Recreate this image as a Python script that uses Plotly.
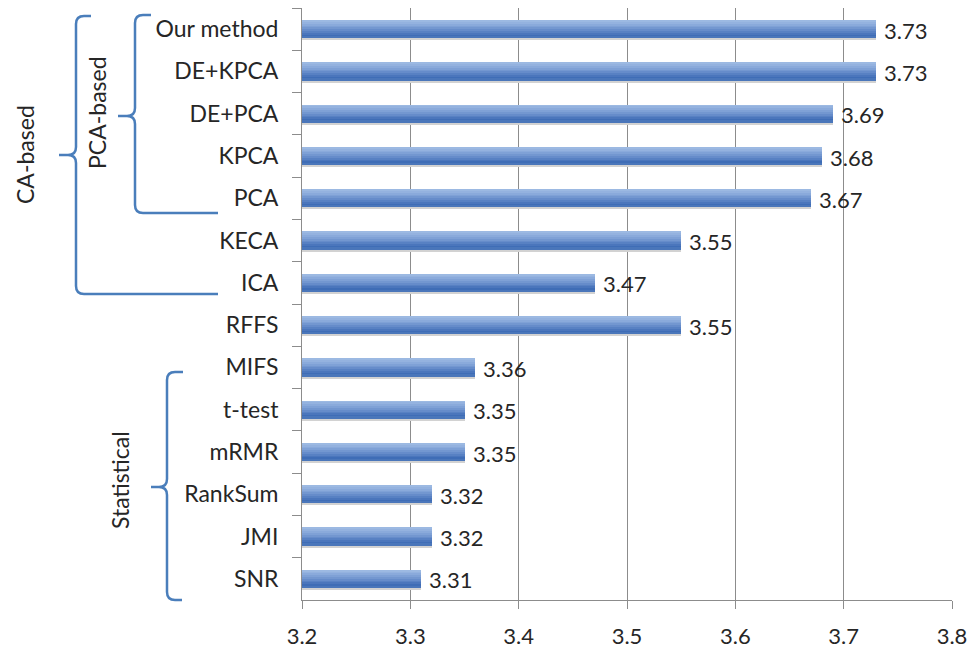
import plotly.graph_objects as go

# Feature-selection methods, listed top to bottom, and their scores
methods = ["Our method", "DE+KPCA", "DE+PCA", "KPCA", "PCA", "KECA", "ICA",
           "RFFS", "MIFS", "t-test", "mRMR", "RankSum", "JMI", "SNR"]
scores = [3.73, 3.73, 3.69, 3.68, 3.67, 3.55, 3.47,
          3.55, 3.36, 3.35, 3.35, 3.32, 3.32, 3.31]
x_ticks = [3.2, 3.3, 3.4, 3.5, 3.6, 3.7, 3.8]

FONT = "Lato"
TEXT = "#262626"
GRID = "#8c8c8c"
BRACE = "#4a7ebb"

# plot-area geometry in pixels
W, H = 979, 651
L, R, T, B = 302, 952, 8, 600


def px(x):
    return (x - L) / (R - L)


def py(y):
    return (B - y) / (B - T)


fig = go.Figure()

bar_w = 0.43
# soft drop shadow under each bar
fig.add_trace(go.Bar(
    y=methods, x=scores, orientation="h", width=bar_w, offset=-bar_w / 2 + 0.05,
    marker=dict(color="#d2d2d2", line=dict(width=0)), hoverinfo="skip", showlegend=False,
))

# vertical gradient built from thin overlaid strips (light top, dark bottom)
grad = ["#9cb9e2", "#94b2df", "#8aaadb", "#7fa1d6", "#7397d0",
        "#668cca", "#5881c3", "#4b76bc", "#3f6db6", "#4a76ba"]
n = len(grad)
strip = bar_w / n
for i, c in enumerate(grad):
    fig.add_trace(go.Bar(
        y=methods, x=scores, orientation="h",
        width=strip + (0.02 if i < n - 1 else 0), offset=-bar_w / 2 + i * strip,
        marker=dict(color=c, line=dict(width=0)),
        hoverinfo="skip", showlegend=False,
    ))

# value labels at the end of each bar
for m, v in zip(methods, scores):
    fig.add_annotation(x=v, y=m, text=f"{v:.2f}", showarrow=False,
                       xanchor="left", xshift=6, yshift=-1,
                       font=dict(family=FONT, size=22, color=TEXT))


def brace_path(xv, yt, yb, ym, xtip, xr_top, xr_bot, r=8):
    pts = [
        f"M {px(xr_top)},{py(yt)}",
        f"L {px(xv + r)},{py(yt)}",
        f"Q {px(xv)},{py(yt)} {px(xv)},{py(yt + r)}",
        f"L {px(xv)},{py(ym - r)}",
        f"Q {px(xv)},{py(ym)} {px(xv - r)},{py(ym)}",
        f"L {px(xtip)},{py(ym)}",
        f"M {px(xv - r)},{py(ym)}",
        f"Q {px(xv)},{py(ym)} {px(xv)},{py(ym + r)}",
        f"L {px(xv)},{py(yb - r)}",
        f"Q {px(xv)},{py(yb)} {px(xv + r)},{py(yb)}",
        f"L {px(xr_bot)},{py(yb)}",
    ]
    return " ".join(pts)


braces = [
    dict(xv=135, yt=15, yb=213, ym=116, xtip=118, xr_top=151, xr_bot=218),
    dict(xv=76, yt=16, yb=294, ym=155, xtip=59, xr_top=91, xr_bot=218),
    dict(xv=167, yt=372, yb=600, ym=487, xtip=151, xr_top=183, xr_bot=182),
]
for b in braces:
    fig.add_shape(type="path", path=brace_path(**b), xref="paper", yref="paper",
                  line=dict(color=BRACE, width=2.5), fillcolor="rgba(0,0,0,0)",
                  layer="above")

group_labels = [("CA-based", 25, 155), ("PCA-based", 97, 113), ("Statistical", 120, 480)]
for txt, gx, gy in group_labels:
    fig.add_annotation(x=px(gx), y=py(gy), xref="paper", yref="paper", text=txt,
                       textangle=-90, showarrow=False, xanchor="center", yanchor="middle",
                       font=dict(family=FONT, size=23, color=TEXT))

fig.update_layout(
    width=W, height=H,
    margin=dict(l=L, r=W - R, t=T, b=H - B, pad=0, autoexpand=False),
    barmode="overlay", bargap=0,
    plot_bgcolor="white", paper_bgcolor="white",
    font=dict(family=FONT, size=22, color=TEXT),
    showlegend=False,
)
fig.update_xaxes(
    range=[3.2, 3.8], tickvals=x_ticks, ticktext=[f"{t:.1f}" for t in x_ticks],
    showgrid=True, gridcolor=GRID, gridwidth=1, zeroline=False,
    showline=True, linecolor=GRID, linewidth=1, automargin=False,
    ticks="outside", ticklen=8, tickcolor=GRID, ticklabelstandoff=9,
    tickfont=dict(family=FONT, size=22, color=TEXT),
)
fig.update_yaxes(
    categoryorder="array", categoryarray=methods, autorange="reversed",
    showgrid=False, zeroline=False, showline=True, linecolor=GRID, linewidth=1,
    automargin=False,
    ticks="outside", tickson="boundaries", ticklen=9, tickcolor=GRID,
    ticklabelstandoff=18,
    tickfont=dict(family=FONT, size=23, color=TEXT),
)

fig.write_html("out.html")
